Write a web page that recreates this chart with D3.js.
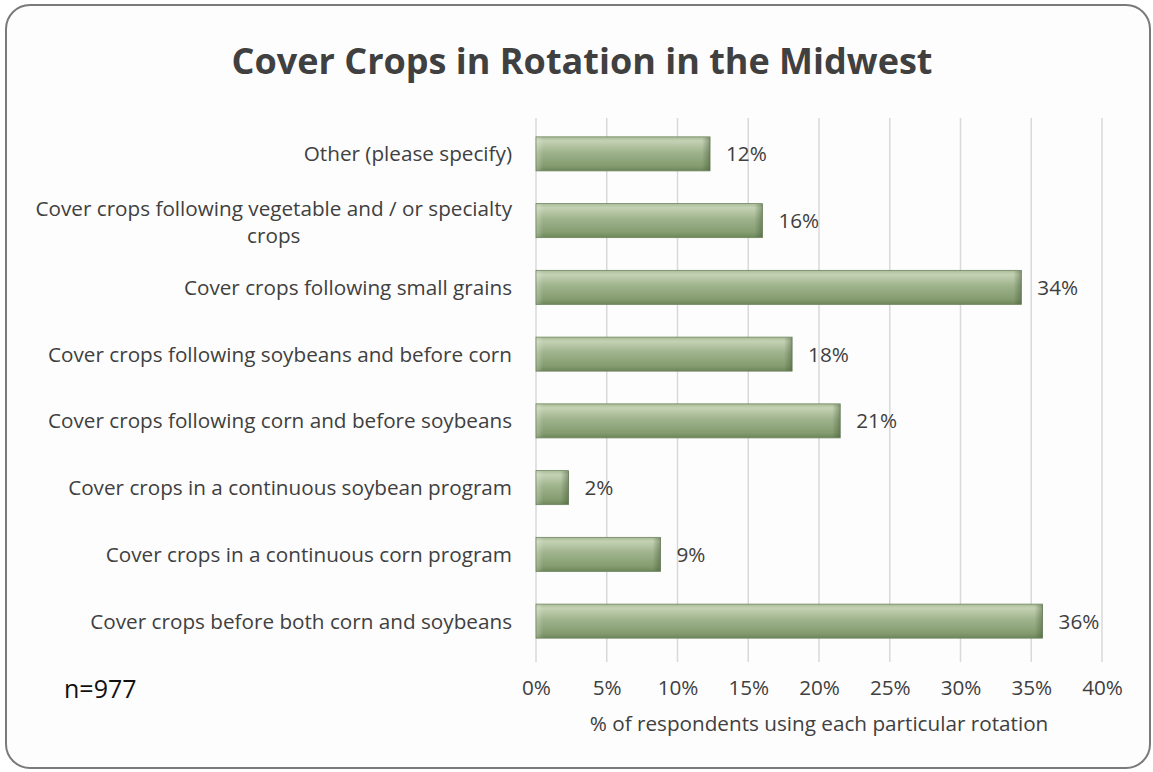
<!DOCTYPE html>
<html><head><meta charset="utf-8">
<script src="https://cdn.jsdelivr.net/npm/d3@7"></script>
<style>body{margin:0;background:#fff;}svg{display:block;}text{font-family:"Open Sans",sans-serif;}</style>
</head><body>
<svg id="c" width="1153" height="772"></svg>
<script>
const categories = [
  "Other (please specify)",
  "Cover crops following vegetable and / or specialty crops",
  "Cover crops following small grains",
  "Cover crops following soybeans and before corn",
  "Cover crops following corn and before soybeans",
  "Cover crops in a continuous soybean program",
  "Cover crops in a continuous corn program",
  "Cover crops before both corn and soybeans"
];
const values = [12.3, 16.0, 34.3, 18.1, 21.5, 2.3, 8.8, 35.8];
const valueLabels = ["12%", "16%", "34%", "18%", "21%", "2%", "9%", "36%"];
const xTicks = [0, 5, 10, 15, 20, 25, 30, 35, 40];
const labelLines = {"Cover crops following vegetable and / or specialty crops": ["Cover crops following vegetable and / or specialty", "crops"]};

const svg = d3.select("#c");
const txt = "#404040";
const FS = 20.7;

svg.append("rect").attr("x",6).attr("y",5).attr("width",1144).attr("height",763)
  .attr("rx",24).attr("ry",24).attr("fill","#fdfdfd").attr("stroke","#7a7a7a").attr("stroke-width",2);

svg.append("text").attr("x",582).attr("y",74).attr("text-anchor","middle")
  .attr("font-size",36).attr("font-weight","bold").attr("fill",txt)
  .text("Cover Crops in Rotation in the Midwest");

const x = d3.scaleLinear().domain([0,40]).range([536,1102]);
const y = d3.scaleBand().domain(categories).range([120.5,654.5]).paddingInner(0.49).paddingOuter(0.245);

const defs = svg.append("defs");
const g1 = defs.append("linearGradient").attr("id","bg").attr("x1",0).attr("y1",0).attr("x2",0).attr("y2",1);
[[0,"#a9bb97"],[0.12,"#c4d2b4"],[0.45,"#9fb38c"],[0.85,"#849c70"],[1,"#6c8559"]].forEach(s=>g1.append("stop").attr("offset",s[0]).attr("stop-color",s[1]));
const g2 = defs.append("linearGradient").attr("id","rg").attr("x1",0).attr("y1",0).attr("x2",1).attr("y2",0);
[[0,0],[1,0.45]].forEach(s=>g2.append("stop").attr("offset",s[0]).attr("stop-color","#3f5232").attr("stop-opacity",s[1]));
const g3 = defs.append("linearGradient").attr("id","lg").attr("x1",0).attr("y1",0).attr("x2",1).attr("y2",0);
[[0,0.25],[1,0]].forEach(s=>g3.append("stop").attr("offset",s[0]).attr("stop-color","#ffffff").attr("stop-opacity",s[1]));

svg.append("g").selectAll("line").data(xTicks).join("line")
  .attr("x1",d=>x(d)).attr("x2",d=>x(d)).attr("y1",118).attr("y2",662)
  .attr("stroke","#d9d9d9").attr("stroke-width",1.5);

const bars = svg.append("g");
bars.selectAll("rect.b").data(categories).join("rect").attr("class","b")
  .attr("x",x(0)).attr("y",d=>y(d)).attr("width",(d,i)=>x(values[i])-x(0)).attr("height",y.bandwidth())
  .attr("fill","url(#bg)").attr("stroke","#6f8560").attr("stroke-width",0.8);
bars.selectAll("rect.r").data(categories).join("rect").attr("class","r")
  .attr("x",(d,i)=>x(values[i])-8).attr("y",d=>y(d)+0.5).attr("width",8).attr("height",y.bandwidth()-1)
  .attr("fill","url(#rg)");
bars.selectAll("rect.l").data(categories).join("rect").attr("class","l")
  .attr("x",x(0)+0.5).attr("y",d=>y(d)+0.5).attr("width",7).attr("height",y.bandwidth()-1)
  .attr("fill","url(#lg)");

svg.append("g").selectAll("text").data(categories).join("text")
  .attr("x",(d,i)=>x(values[i])+16).attr("y",d=>y(d)+y.bandwidth()/2).attr("dy","0.36em")
  .attr("font-size",FS).attr("fill",txt).text((d,i)=>valueLabels[i]);

const cl = svg.append("g");
categories.forEach(c=>{
  const cy = y(c)+y.bandwidth()/2;
  if(labelLines[c]){
    const lines = labelLines[c];
    const t1 = cl.append("text").attr("x",512).attr("y",cy-12.5).attr("dy","0.36em").attr("text-anchor","end")
      .attr("font-size",FS).attr("fill",txt).text(lines[0]);
    const w = t1.node().getComputedTextLength();
    cl.append("text").attr("x",512-w/2).attr("y",cy+14.5).attr("dy","0.36em").attr("text-anchor","middle")
      .attr("font-size",FS).attr("fill",txt).text(lines[1]);
  } else {
    cl.append("text").attr("x",512).attr("y",cy).attr("dy","0.36em").attr("text-anchor","end")
      .attr("font-size",FS).attr("fill",txt).text(c);
  }
});

const ax = svg.append("g").attr("transform","translate(0,688)").call(d3.axisBottom(x).tickValues(xTicks).tickFormat(d=>d+"%").tickSize(0).tickPadding(0));
ax.select(".domain").remove();
ax.selectAll("text").attr("font-size",FS).attr("fill",txt).attr("font-family","'Open Sans',sans-serif").attr("dy","0.36em").attr("y",0);

svg.append("text").attr("x",819).attr("y",724).attr("dy","0.36em").attr("text-anchor","middle")
  .attr("font-size",FS).attr("fill",txt).text("% of respondents using each particular rotation");

svg.append("text").attr("x",64).attr("y",689).attr("dy","0.36em").attr("font-size",25).attr("fill","#111").text("n=977");
</script>
</body></html>
